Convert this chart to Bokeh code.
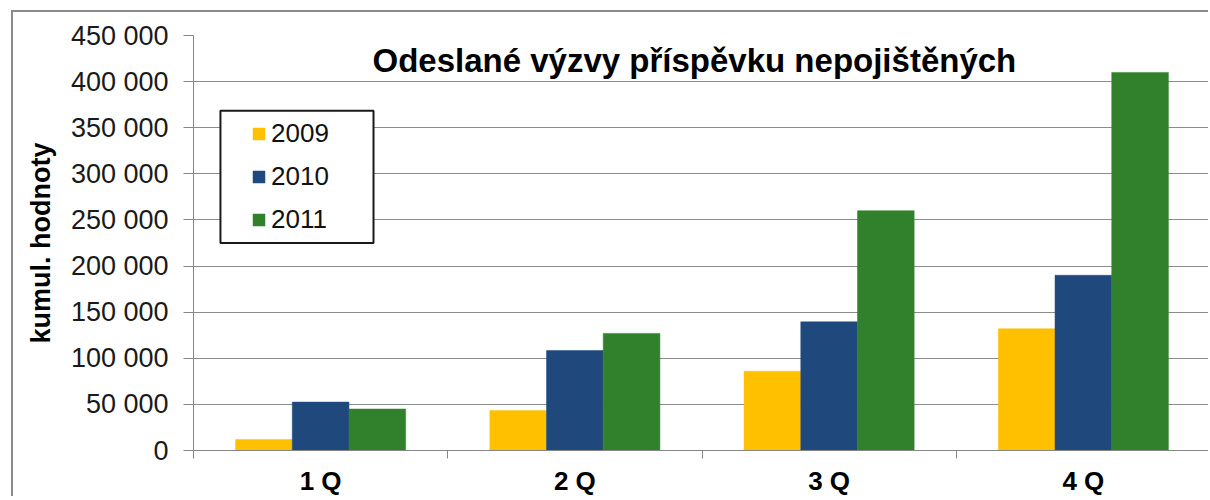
from bokeh.plotting import figure
from bokeh.models import Range1d, FixedTicker, Legend, LegendItem, BoxAnnotation, Label, ColumnDataSource
from bokeh.embed import file_html
from bokeh.resources import INLINE

# ---- data ----
quarters = ["1 Q", "2 Q", "3 Q", "4 Q"]
years = ["2009", "2010", "2011"]
v2009 = [12000, 43500, 86000, 132000]
v2010 = [52500, 108500, 139500, 190000]
v2011 = [45000, 127000, 260000, 410000]
colors = ["#FFC000", "#1F497D", "#31812C"]
y_ticks = [0, 50000, 100000, 150000, 200000, 250000, 300000, 350000, 400000, 450000]
title_text = "Odeslané výzvy příspěvku nepojištěných"
y_title = "kumul. hodnoty"

FONT = "Liberation Sans"
series = [v2009, v2010, v2011]
n = len(quarters)
bar_w = 0.223

p = figure(width=1197, height=486, output_backend="svg", toolbar_location=None,
           x_range=Range1d(0, n), y_range=Range1d(0, y_ticks[-1]),
           min_border_left=180, min_border_right=0, min_border_top=23, min_border_bottom=45)
p.styles = {"border-left": "2px solid #8a8a8a", "border-top": "2px solid #8a8a8a",
            "margin-left": "11px", "margin-top": "10px"}
p.outline_line_color = None
p.background_fill_color = "white"
p.border_fill_color = "white"

renderers = []
for k, (vals, col) in enumerate(zip(series, colors)):
    xs = [i + 0.5 + (k - 1) * bar_w for i in range(n)]
    src = ColumnDataSource(dict(x=xs, top=vals))
    r = p.vbar(x="x", top="top", width=bar_w, bottom=0, source=src,
               fill_color=col, line_color=col, line_width=0.5)
    renderers.append(r)

# axes
p.xgrid.visible = False
p.ygrid.grid_line_color = "#8c8c8c"
p.ygrid.grid_line_width = 1
p.ygrid.ticker = FixedTicker(ticks=y_ticks)

p.yaxis.ticker = FixedTicker(ticks=y_ticks)
p.yaxis.major_label_overrides = {t: f"{t:,}".replace(",", " ") for t in y_ticks}
p.yaxis.major_label_text_font = FONT
p.yaxis.major_label_text_font_size = "27px"
p.yaxis.major_label_text_color = "#1a1a1a"
p.yaxis.major_label_standoff = 15
p.yaxis.major_tick_out = 10
p.yaxis.major_tick_in = 0
p.yaxis.minor_tick_line_color = None
p.yaxis.axis_line_color = "#868686"
p.yaxis.major_tick_line_color = "#868686"
p.yaxis.axis_label = y_title
p.yaxis.axis_label_text_font = FONT
p.yaxis.axis_label_text_font_size = "27px"
p.yaxis.axis_label_text_font_style = "bold"
p.yaxis.axis_label_text_color = "#000000"
p.yaxis.axis_label_standoff = 12

centers = [i + 0.5 for i in range(n)]
p.xaxis.ticker = FixedTicker(ticks=centers, minor_ticks=list(range(n + 1)))
p.xaxis.major_label_overrides = {c: q for c, q in zip(centers, quarters)}
p.xaxis.major_label_text_font = FONT
p.xaxis.major_label_text_font_size = "26px"
p.xaxis.major_label_text_font_style = "bold"
p.xaxis.major_label_text_color = "#000000"
p.xaxis.major_tick_line_color = None
p.xaxis.major_tick_out = 0
p.xaxis.major_tick_in = 0
p.xaxis.major_label_standoff = 7
p.xaxis.minor_tick_line_color = "#868686"
p.xaxis.minor_tick_out = 8
p.xaxis.minor_tick_in = 0
p.xaxis.axis_line_color = "#868686"

# legend box
box = BoxAnnotation(left=0.106, right=0.708, top=368500, bottom=225000,
                    fill_color="white", fill_alpha=1.0,
                    line_color="#1a1a1a", line_alpha=1.0, line_width=2, level="annotation")
p.add_layout(box)

legend = Legend(items=[LegendItem(label=y, renderers=[r]) for y, r in zip(years, renderers)],
                location=(58, 215), margin=0, padding=7, spacing=12,
                glyph_width=15, glyph_height=15, label_height=30, label_standoff=5,
                label_text_font=FONT, label_text_font_size="26px", label_text_color="#111111",
                border_line_color=None, background_fill_alpha=0)
p.add_layout(legend, "center")

title = Label(x=n / 2 - 0.03, y=422800, text=title_text, text_align="center", text_baseline="middle",
              text_font=FONT, text_font_size="33px", text_font_style="bold", text_color="#000000")
p.add_layout(title)

open("out.html", "w").write(file_html(p, INLINE))
